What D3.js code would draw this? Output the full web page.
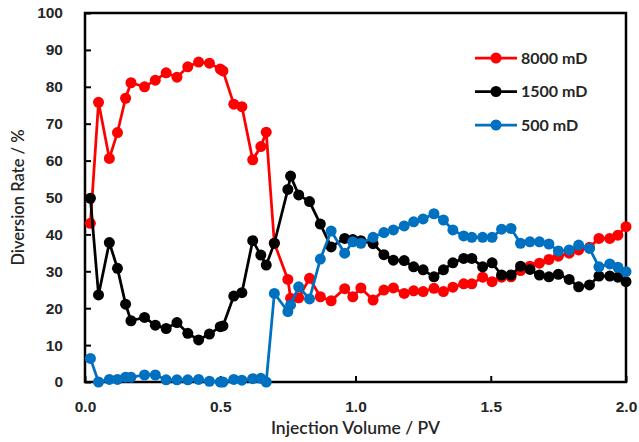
<!DOCTYPE html>
<html>
<head>
<meta charset="utf-8">
<script src="https://cdn.jsdelivr.net/npm/d3@7.9.0/dist/d3.min.js"></script>
<style>
  body { margin: 0; background: #fff; }
  svg { display: block; font-family: Lato, "Open Sans", sans-serif; }
</style>
</head>
<body>
<svg id="chart" width="639" height="442"></svg>
<script>
// injection volume (PV), shared by all three cores
const pv = [
  0.02, 0.05, 0.09, 0.12, 0.15, 0.17, 0.22, 0.26, 0.30, 0.34,
  0.38, 0.42, 0.46, 0.50, 0.51, 0.55, 0.58, 0.62, 0.65, 0.67,
  0.70, 0.75, 0.76, 0.79, 0.83, 0.87, 0.91, 0.96, 0.99, 1.02,
  1.065, 1.105, 1.14, 1.18, 1.215, 1.25, 1.29, 1.325, 1.36, 1.40,
  1.43, 1.47, 1.505, 1.54, 1.575, 1.61, 1.645, 1.68, 1.715, 1.75,
  1.79, 1.825, 1.865, 1.90, 1.94, 1.97, 2.00
];

const rate8000 = [
  43.0, 75.8, 60.6, 67.6, 76.9, 81.1, 80.0, 81.8, 83.8, 82.6,
  85.4, 86.7, 86.4, 84.8, 84.3, 75.3, 74.6, 60.2, 63.8, 67.7,
  37.6, 27.8, 22.7, 22.8, 28.1, 23.1, 22.0, 25.3, 23.1, 25.5,
  22.2, 24.9, 25.5, 24.0, 24.7, 24.5, 25.4, 24.5, 25.7, 26.6,
  26.6, 28.4, 27.2, 28.4, 28.5, 30.2, 31.4, 32.2, 33.2, 34.1,
  34.9, 35.8, 36.5, 38.9, 38.9, 39.8, 42.1
];

const rate1500 = [
  49.8, 23.6, 37.8, 30.8, 21.1, 16.6, 17.5, 15.4, 14.5, 16.1,
  13.2, 11.4, 13.0, 15.0, 15.2, 23.3, 24.2, 38.3, 34.4, 31.7,
  37.6, 52.2, 55.8, 50.7, 48.9, 42.8, 36.6, 38.9, 38.6, 38.3,
  37.5, 34.5, 33.0, 32.9, 31.2, 30.4, 28.5, 30.4, 32.3, 33.5,
  33.5, 31.2, 32.3, 29.0, 29.0, 31.4, 30.5, 29.0, 28.5, 29.2,
  27.8, 25.8, 26.3, 28.7, 28.7, 28.4, 27.2
];

const rate500 = [
  6.4, 0.0, 0.7, 0.7, 1.3, 1.3, 1.9, 1.9, 0.6, 0.6,
  0.6, 0.7, 0.2, 0.0, 0.0, 0.7, 0.5, 0.9, 1.0, 0.0,
  24.0, 19.1, 20.9, 25.8, 22.5, 33.3, 40.9, 34.9, 38.0, 37.6,
  39.2, 40.5, 41.2, 42.3, 43.4, 44.2, 45.6, 43.9, 41.2, 39.6,
  39.2, 39.2, 39.2, 41.4, 41.6, 37.6, 38.0, 38.0, 37.4, 35.5,
  35.8, 37.1, 36.2, 31.2, 32.0, 31.1, 29.9
];

const seriesNames = ["8000 mD", "1500 mD", "500 mD"];
const seriesColors = ["#ff0000", "#000000", "#0070c0"];
const seriesValues = [rate8000, rate1500, rate500];

const xTicks = [0, 0.5, 1.0, 1.5, 2.0];
const yTicks = d3.range(0, 101, 10);

const plot = { left: 85, right: 626, top: 13, bottom: 382 };
const textColor = "#262626";

const svg = d3.select("#chart");

const x = d3.scaleLinear().domain([0, 2]).range([plot.left, plot.right]);
const y = d3.scaleLinear().domain([0, 100]).range([plot.bottom, plot.top]);

// axes with inward ticks
const xAxis = svg.append("g")
  .attr("transform", `translate(0,${plot.bottom})`)
  .call(d3.axisBottom(x).tickValues(xTicks).tickFormat(d3.format(".1f"))
    .tickSizeInner(-6).tickSizeOuter(0).tickPadding(19));

const yAxis = svg.append("g")
  .attr("transform", `translate(${plot.left},0)`)
  .call(d3.axisLeft(y).tickValues(yTicks)
    .tickSizeInner(-6).tickSizeOuter(0).tickPadding(22));

[xAxis, yAxis].forEach(g => {
  g.select(".domain").remove();
  g.selectAll(".tick line").attr("stroke", "#000").attr("stroke-width", 2);
  g.selectAll(".tick text")
    .attr("fill", textColor)
    .style("font-size", "15.5px")
    .style("font-weight", "bold");
});

// frame round the plot area
svg.append("rect")
  .attr("x", plot.left)
  .attr("y", plot.top)
  .attr("width", plot.right - plot.left)
  .attr("height", plot.bottom - plot.top)
  .attr("fill", "none")
  .attr("stroke", "#000")
  .attr("stroke-width", 2.5);

// series lines and markers
const line = d3.line()
  .x((d, i) => x(pv[i]))
  .y(d => y(d));

seriesValues.forEach((vals, s) => {
  const g = svg.append("g");
  g.append("path")
    .attr("d", line(vals))
    .attr("fill", "none")
    .attr("stroke", seriesColors[s])
    .attr("stroke-width", 2.75)
    .attr("stroke-linejoin", "round");
  g.selectAll("circle")
    .data(vals)
    .enter()
    .append("circle")
    .attr("cx", (d, i) => x(pv[i]))
    .attr("cy", d => y(d))
    .attr("r", 5.5)
    .attr("fill", seriesColors[s]);
});

// legend
const legend = svg.append("g").attr("transform", "translate(475,58)");
seriesNames.forEach((name, s) => {
  const row = legend.append("g").attr("transform", `translate(0,${s * 33.5})`);
  row.append("line")
    .attr("x1", 0).attr("x2", 42)
    .attr("stroke", seriesColors[s])
    .attr("stroke-width", 2.75);
  row.append("circle")
    .attr("cx", 21).attr("r", 5.5)
    .attr("fill", seriesColors[s]);
  row.append("text")
    .attr("x", 46)
    .attr("dy", "0.35em")
    .attr("fill", textColor)
    .style("font-size", "16px")
    .style("font-weight", "bold")
    .text(name);
});

// axis titles
svg.append("text")
  .attr("x", (plot.left + plot.right) / 2)
  .attr("y", 434)
  .attr("text-anchor", "middle")
  .attr("fill", textColor)
  .style("font-size", "17.5px")
  .style("font-weight", "600")
  .text("Injection Volume / PV");

svg.append("text")
  .attr("transform", `translate(24,${(plot.top + plot.bottom) / 2}) rotate(-90)`)
  .attr("text-anchor", "middle")
  .attr("fill", textColor)
  .style("font-size", "16.5px")
  .style("font-weight", "600")
  .text("Diversion Rate / %");
</script>
</body>
</html>
